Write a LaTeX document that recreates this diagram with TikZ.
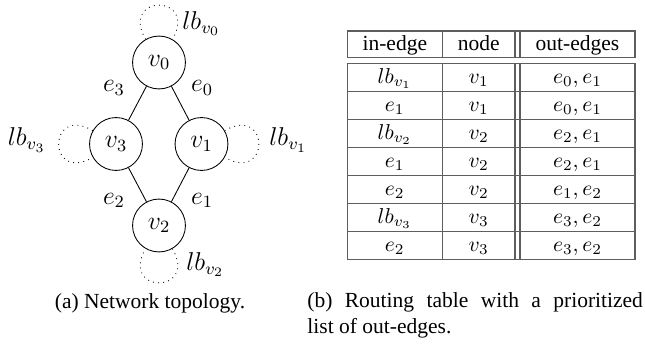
\documentclass[tikz,border=0pt]{standalone}
\usepackage[no-math]{fontspec}
\setmainfont{Liberation Serif}
\usetikzlibrary{positioning}
\definecolor{RTGrid}{HTML}{5E5E5E}

\begin{document}
\begin{tikzpicture}[
      x=0.465pt,y=-0.465pt,
      router/.style={draw,circle,minimum size=24.6pt,inner sep=0pt,
        font=\fontsize{12}{14}\selectfont},
      link/.style={draw},
      selfloop/.style={dotted,distance=24.4pt},
      tag/.style={inner sep=0pt,font=\fontsize{12}{14}\selectfont},
      cell/.style={inner sep=0pt,anchor=base},
      grid/.style={draw=RTGrid,line width=0.6pt},
      subcap/.style={inner sep=0pt,font=\normalsize}
    ]
    \useasboundingbox (0,0) rectangle (645,356);

    % (a) network topology
    \node[router] (v0) at (159,62.5) {$v_0$};
    \node[router] (v1) at (201.5,144) {$v_1$};
    \node[router] (v2) at (159,225.5) {$v_2$};
    \node[router] (v3) at (116,144) {$v_3$};

    \draw[link] (v0) -- (v1);
    \draw[link] (v1) -- (v2);
    \draw[link] (v2) -- (v3);
    \draw[link] (v3) -- (v0);

    \draw[selfloop] (v0) to[out=120,in=60] (v0);
    \draw[selfloop] (v1) to[out=30,in=-30] (v1);
    \draw[selfloop] (v2) to[out=-60,in=-120] (v2);
    \draw[selfloop] (v3) to[out=150,in=210] (v3);

    \node[tag] (e0) at (202,88) {$e_0$};
    \node[tag] (e1) at (202,200.5) {$e_1$};
    \node[tag] (e2) at (114,200.5) {$e_2$};
    \node[tag] (e3) at (114,88) {$e_3$};

    \node[tag,anchor=west] (lb0) at (182,23.5) {$lb_{v_0}$};
    \node[tag,anchor=west] (lb1) at (269,140) {$lb_{v_1}$};
    \node[tag,anchor=west] (lb2) at (186,264.5) {$lb_{v_2}$};
    \node[tag,anchor=east] (lb3) at (46,140) {$lb_{v_3}$};

    % (b) routing table
    \draw[grid] (347.3,31) rectangle (635,57.7);
    \draw[grid] (347.3,63.3) rectangle (635,259.3);
    \draw[grid] (442.3,31) -- (442.3,57.7);
    \draw[grid] (515,31) -- (515,57.7);
    \draw[grid] (520,31) -- (520,57.7);
    \draw[grid] (442.3,63.3) -- (442.3,259.3);
    \draw[grid] (515,63.3) -- (515,259.3);
    \draw[grid] (520,63.3) -- (520,259.3);
    \draw[grid] (347.3,91.3) -- (635,91.3);
    \draw[grid] (347.3,119.3) -- (635,119.3);
    \draw[grid] (347.3,147.3) -- (635,147.3);
    \draw[grid] (347.3,175.3) -- (635,175.3);
    \draw[grid] (347.3,203.3) -- (635,203.3);
    \draw[grid] (347.3,231.3) -- (635,231.3);

    \node[cell] (hin) at (394.8,50) {in-edge};
    \node[cell] (hnode) at (478.7,50) {node};
    \node[cell] (hout) at (577.5,50) {out-edges};

    \node[cell] (r1in) at (394.8,83.3) {$lb_{v_1}$};
    \node[cell] (r1node) at (478.7,83.3) {$v_1$};
    \node[cell] (r1out) at (577.5,83.3) {$e_0, e_1$};
    \node[cell] (r2in) at (394.8,111.3) {$e_1$};
    \node[cell] (r2node) at (478.7,111.3) {$v_1$};
    \node[cell] (r2out) at (577.5,111.3) {$e_0, e_1$};
    \node[cell] (r3in) at (394.8,139.3) {$lb_{v_2}$};
    \node[cell] (r3node) at (478.7,139.3) {$v_2$};
    \node[cell] (r3out) at (577.5,139.3) {$e_2, e_1$};
    \node[cell] (r4in) at (394.8,167.3) {$e_1$};
    \node[cell] (r4node) at (478.7,167.3) {$v_2$};
    \node[cell] (r4out) at (577.5,167.3) {$e_2, e_1$};
    \node[cell] (r5in) at (394.8,195.3) {$e_2$};
    \node[cell] (r5node) at (478.7,195.3) {$v_2$};
    \node[cell] (r5out) at (577.5,195.3) {$e_1, e_2$};
    \node[cell] (r6in) at (394.8,223.3) {$lb_{v_3}$};
    \node[cell] (r6node) at (478.7,223.3) {$v_3$};
    \node[cell] (r6out) at (577.5,223.3) {$e_3, e_2$};
    \node[cell] (r7in) at (394.8,251.3) {$e_2$};
    \node[cell] (r7node) at (478.7,251.3) {$v_3$};
    \node[cell] (r7out) at (577.5,251.3) {$e_3, e_2$};

    % captions
    \node[subcap,anchor=base] (capa) at (150,308) {(a) Network topology.};
    \node[subcap,anchor=north west,text width=156pt,align=justify] (capb)
      at (307,292) {(b) Routing table with a prioritized\linebreak list of out-edges.};
  \end{tikzpicture}
\end{document}
